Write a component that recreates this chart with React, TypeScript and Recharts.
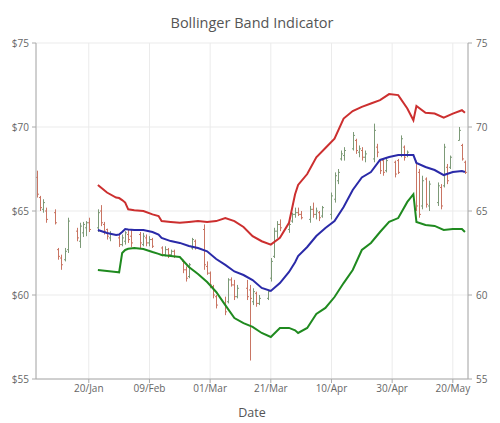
import React from 'react';
import { ComposedChart, XAxis, YAxis, CartesianGrid, Line, Bar } from 'recharts';

// ---- candle data (day-of-year, 2017 trading days) ----
const tradeDays = [3,4,5,6,9,10,11,12,13,16,17,18,19,20,23,24,25,26,27,30,31,32,33,34,37,38,39,40,41,44,45,46,47,48,51,52,53,54,55,58,59,60,61,62,65,66,67,68,69,72,73,74,75,76,79,80,81,82,83,86,87,88,89,90,93,94,95,96,97,100,101,102,103,104,107,108,109,110,111,114,115,116,117,118,121,122,123,124,125,128,129,130,131,132,135,136,137,138,139,142,143,144];
const opens = [67.0,65.8,65.1,65.0,64.9,62.7,62.2,62.1,62.7,63.8,63.2,63.7,64.0,64.3,64.0,65.0,64.2,63.9,63.4,63.4,63.0,63.2,63.6,63.5,63.6,63.0,63.4,63.1,63.3,62.8,62.4,62.7,62.4,62.6,62.0,61.5,61.1,62.8,63.2,63.9,61.7,61.3,60.5,59.9,59.5,59.6,60.9,60.6,59.9,60.4,60.3,59.6,60.1,59.5,59.8,61.0,62.3,63.8,64.2,63.9,64.4,64.8,64.9,64.8,64.5,65.1,64.8,64.9,64.7,64.8,65.7,66.8,68.1,68.3,68.7,69.2,68.5,68.6,68.2,68.1,68.8,68.0,68.0,67.4,67.9,68.0,68.3,68.8,68.3,67.9,67.3,65.3,66.9,65.3,65.5,66.4,66.5,67.6,67.6,69.2,68.9,67.9];
const highs = [67.4,65.9,65.7,65.2,65.1,62.8,62.4,62.8,64.6,64.0,64.3,64.35,64.4,64.6,65.1,65.35,64.35,63.95,63.8,63.57,63.6,63.8,63.9,63.87,63.75,63.7,63.6,63.5,63.4,62.9,62.9,62.8,62.7,62.7,62.1,61.7,61.9,63.4,63.3,64.2,62.0,61.4,60.6,60.0,59.9,61.0,61.05,60.9,60.6,60.9,60.6,60.4,60.2,60.0,60.3,62.2,64.0,64.4,64.5,64.3,64.9,65.2,65.2,65.0,65.3,65.5,65.2,65.0,65.3,66.1,67.3,67.5,68.6,68.8,69.7,69.3,68.9,68.8,68.6,70.2,69.0,68.0,68.1,68.2,68.0,68.1,69.5,68.9,68.6,68.0,67.5,67.1,67.0,66.8,66.7,66.6,69.0,67.8,68.3,70.0,69.0,68.0];
const lows = [65.8,65.0,64.9,64.3,64.2,62.1,61.5,62.0,62.5,63.2,62.8,63.45,63.5,63.75,63.75,64.1,63.6,63.3,63.2,62.86,62.9,63.0,63.1,62.86,62.8,62.9,62.9,62.9,62.8,62.3,62.3,62.2,62.3,62.2,61.3,60.8,61.0,62.7,62.7,61.5,61.2,60.4,59.8,59.2,58.8,59.5,60.5,59.7,59.8,59.7,56.1,59.4,59.3,59.4,59.7,60.8,62.2,63.4,63.8,63.7,64.3,64.6,64.7,64.5,64.3,64.6,64.5,64.4,64.6,64.5,65.5,66.6,68.0,68.0,68.6,68.4,68.2,68.0,67.9,67.9,68.2,67.2,67.1,67.3,67.0,67.2,68.2,68.0,68.2,65.0,64.6,65.1,65.2,65.0,65.3,65.1,66.4,66.6,67.5,69.2,68.0,67.2];
const closes = [66.0,65.2,65.5,64.5,64.3,62.3,61.8,62.6,64.4,63.4,64.1,64.2,64.3,63.9,64.9,64.3,63.8,63.5,63.6,63.0,63.4,63.7,63.3,63.1,63.1,63.5,63.1,63.3,62.9,62.4,62.7,62.4,62.6,62.3,61.5,61.0,61.8,63.3,62.8,61.8,61.3,60.6,60.0,59.4,59.0,60.9,60.6,59.9,60.4,59.9,59.8,60.2,59.5,59.8,60.2,62.0,63.8,64.2,64.0,64.2,64.8,64.9,64.8,64.6,65.1,64.8,65.0,64.6,65.2,65.9,67.1,67.3,68.4,68.6,69.5,68.6,68.7,68.2,68.4,69.8,68.5,67.4,67.3,68.0,67.2,67.3,69.3,68.2,68.5,65.3,64.8,66.8,65.4,66.6,66.5,65.3,68.8,66.8,68.2,69.8,68.1,67.3];

// ---- Bollinger bands ----
const bandDays = [23,26,29,30,31,32,33,35,38,41,43,44,47,50,53,56,59,62,65,68,71,74,77,80,83,86,88,89,92,95,98,101,104,107,110,113,116,119,122,125,127,128,131,134,137,140,143,144];
const upperBand = [66.55,66.1,65.8,65.77,65.65,65.5,65.1,65.05,65.0,64.8,64.7,64.4,64.35,64.3,64.35,64.4,64.35,64.4,64.58,64.4,64.05,63.5,63.2,63.0,63.4,64.3,66.0,66.55,67.2,68.2,68.75,69.3,70.5,70.95,71.2,71.4,71.6,71.96,71.9,71.1,70.4,71.25,70.85,70.8,70.55,70.8,71.0,70.85];
const middleBand = [63.87,63.69,63.57,63.6,63.75,63.93,63.9,63.87,63.87,63.75,63.6,63.4,63.21,63.1,62.92,62.8,62.6,62.14,61.79,61.4,61.19,60.89,60.42,60.24,60.71,61.37,61.95,62.32,62.86,63.51,63.99,64.4,65.24,66.25,67.0,67.32,68.04,68.21,68.33,68.33,68.33,67.86,67.62,67.44,67.14,67.32,67.38,67.32];
const lowerBand = [61.49,61.43,61.37,61.35,62.5,62.68,62.75,62.8,62.74,62.56,62.45,62.38,62.32,62.26,61.67,61.25,60.77,60.18,59.4,58.63,58.33,58.1,57.74,57.5,58.04,58.04,57.9,57.74,58.04,58.87,59.23,59.88,60.71,61.49,62.68,63.1,63.75,64.35,64.58,65.54,66.0,64.35,64.17,64.11,63.87,63.93,63.93,63.75];

// ---- axes ----
const xTicks = [20, 40, 60, 80, 100, 120, 140];
const xTickLabels = ['20/Jan', '09/Feb', '01/Mar', '21/Mar', '10/Apr', '30/Apr', '20/May'];
const yTicks = [55, 60, 65, 70, 75];

const FONT = '"Open Sans", "Noto Sans", sans-serif';
const UP = '#7d9a78';
const DOWN = '#c97563';

const candleData = tradeDays.map((d, i) => ({
  day: d,
  range: [lows[i], highs[i]],
  open: opens[i],
  high: highs[i],
  low: lows[i],
  close: closes[i],
}));

const bandData = bandDays.map((d, i) => ({
  day: d,
  upper: upperBand[i],
  middle: middleBand[i],
  lower: lowerBand[i],
}));

const Candle = (props: any) => {
  const { x, y, width, height, payload } = props;
  if (!payload || x == null || y == null) return null;
  const cx = Math.round(x + width / 2) + 0.5;
  const { high, low, open, close } = payload;
  const span = high - low;
  const h = Math.abs(height);
  const top = height < 0 ? y + height : y;
  const yo = top + (span ? ((high - open) / span) * h : 0);
  const yc = top + (span ? ((high - close) / span) * h : 0);
  const color = close >= open ? UP : DOWN;
  return (
    <g>
      <line x1={cx} x2={cx} y1={top} y2={top + h} stroke={color} strokeWidth={1} />
      <line x1={cx - 1.5} x2={cx} y1={yo} y2={yo} stroke={color} strokeWidth={1} />
      <line x1={cx} x2={cx + 1.5} y1={yc} y2={yc} stroke={color} strokeWidth={1} />
    </g>
  );
};

export default function App() {
  const tickStyle = { fontSize: 10, fill: '#666', fontFamily: FONT };
  return (
    <div style={{ position: 'absolute', left: 0, top: 0, width: 500, height: 423, fontFamily: FONT, background: '#fff' }}>
      <div style={{ position: 'absolute', left: 36, width: 432, top: 14, height: 18, lineHeight: '18px', textAlign: 'center', fontSize: 14.5, color: '#555' }}>
        Bollinger Band Indicator
      </div>
      <ComposedChart width={500} height={423} data={candleData} margin={{ top: 43, right: 0, bottom: 14, left: 0 }}>
        <CartesianGrid yAxisId="left" stroke="#ebebeb" strokeWidth={1} />
        <XAxis
          dataKey="day"
          type="number"
          domain={[2.6, 145]}
          allowDataOverflow
          ticks={xTicks}
          tickFormatter={(v: number) => xTickLabels[xTicks.indexOf(v)] ?? ''}
          height={30}
          tick={tickStyle}
          tickSize={4}
          tickMargin={2}
          stroke="#aaa"
        />
        <YAxis
          yAxisId="left"
          domain={[55, 75]}
          ticks={yTicks}
          width={36}
          tick={tickStyle}
          tickFormatter={(v: number) => `$${v}`}
          tickSize={4}
          tickMargin={3}
          stroke="#aaa"
          allowDataOverflow
        />
        <YAxis
          yAxisId="right"
          orientation="right"
          domain={[55, 75]}
          ticks={yTicks}
          width={32}
          tick={tickStyle}
          tickSize={4}
          tickMargin={4}
          stroke="#aaa"
          allowDataOverflow
        />
        <Bar yAxisId="left" dataKey="range" barSize={3} shape={<Candle />} isAnimationActive={false} />
        <Line yAxisId="left" data={bandData} dataKey="upper" stroke="#cc2f2f" strokeWidth={2} dot={false} isAnimationActive={false} />
        <Line yAxisId="left" data={bandData} dataKey="middle" stroke="#2a2aa8" strokeWidth={2} dot={false} isAnimationActive={false} />
        <Line yAxisId="right" data={bandData} dataKey="lower" stroke="#1f8a1f" strokeWidth={2} dot={false} isAnimationActive={false} />
      </ComposedChart>
      <div style={{ position: 'absolute', left: 36, width: 432, top: 405, height: 16, lineHeight: '16px', textAlign: 'center', fontSize: 12.5, color: '#555' }}>
        Date
      </div>
    </div>
  );
}
